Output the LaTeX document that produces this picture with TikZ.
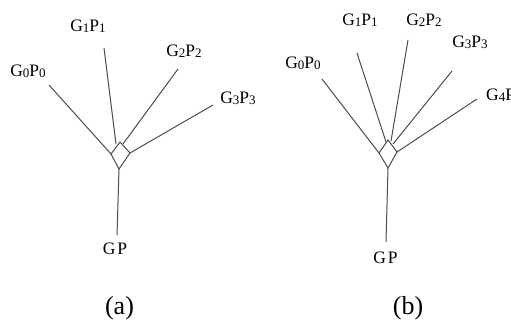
\documentclass[tikz,border=0pt]{standalone}
\usepackage{fontspec}
\setmainfont{Liberation Serif}
% low, fairly large index digits as in the original typesetting
\newcommand{\idx}[1]{\raisebox{-1.5pt}{\fontsize{13}{13}\selectfont #1}}
\begin{document}
\begin{tikzpicture}[x=1pt,y=-1pt,
  lbl/.style={inner sep=0pt, anchor=base, font=\fontsize{17.5}{20}\selectfont},
  subcaption/.style={inner sep=0pt, font=\fontsize{26}{30}\selectfont},
  wire/.style={draw=black!70, line width=1pt},
  rhomb/.style={draw=black!70, line width=1pt, line join=miter},
]
\useasboundingbox (0,0) rectangle (511,324);

% ---------- (a): four inputs ----------
\node[lbl] (a0) at (28,76)   {G\idx{0}P\idx{0}};
\node[lbl] (a1) at (88,31)   {G\idx{1}P\idx{1}};
\node[lbl] (a2) at (184,56)  {G\idx{2}P\idx{2}};
\node[lbl] (a3) at (238,103) {G\idx{3}P\idx{3}};
\node[lbl] (agp) at (115,254) {G\kern2pt P};
\node[subcaption] (acap) at (119.5,308) {(a)};

% diamond corners
\coordinate (aL) at (111,154);
\coordinate (aT) at (120,142);
\coordinate (aR) at (130,153);
\coordinate (aB) at (119,169);
\draw[rhomb] (aL) -- (aT) -- (aR) -- (aB) -- cycle;

% line ends near the labels
\coordinate (ae0) at (49,85);
\coordinate (ae1) at (104,48);
\coordinate (ae2) at (178,69);
\coordinate (ae3) at (213,105);
\coordinate (aeg) at (117,235);
\coordinate (ai1) at (116,144);
\coordinate (ai2) at (123,144);

\draw[wire] (ae0) -- (aL);
\draw[wire] (ae1) -- (ai1);
\draw[wire] (ae2) -- (ai2);
\draw[wire] (ae3) -- (aR);
\draw[wire] (aB) -- (aeg);

% ---------- (b): five inputs ----------
\node[lbl] (b0) at (303,68)  {G\idx{0}P\idx{0}};
\node[lbl] (b1) at (360,25)  {G\idx{1}P\idx{1}};
\node[lbl] (b2) at (424,25)  {G\idx{2}P\idx{2}};
\node[lbl] (b3) at (470,47)  {G\idx{3}P\idx{3}};
\node[lbl,anchor=base west] (b4) at (486,100) {G\idx{4}P\idx{4}};
\node[lbl] (bgp) at (385.5,263) {G\kern2pt P};
\node[subcaption] (bcap) at (408,308) {(b)};

\coordinate (bL) at (379,153);
\coordinate (bT) at (388,140);
\coordinate (bR) at (397,152);
\coordinate (bB) at (388,168);
\draw[rhomb] (bL) -- (bT) -- (bR) -- (bB) -- cycle;

\coordinate (be0) at (322,79);
\coordinate (be1) at (357,53);
\coordinate (be2) at (408,40);
\coordinate (be3) at (452,71);
\coordinate (be4) at (477,99);
\coordinate (beg) at (386,242);
\coordinate (bi1) at (386,142);
\coordinate (bi2) at (391,141);
\coordinate (bi3) at (393,144);

\draw[wire] (be0) -- (bL);
\draw[wire] (be1) -- (bi1);
\draw[wire] (be2) -- (bi2);
\draw[wire] (be3) -- (bi3);
\draw[wire] (be4) -- (bR);
\draw[wire] (bB) -- (beg);
\end{tikzpicture}
\end{document}
